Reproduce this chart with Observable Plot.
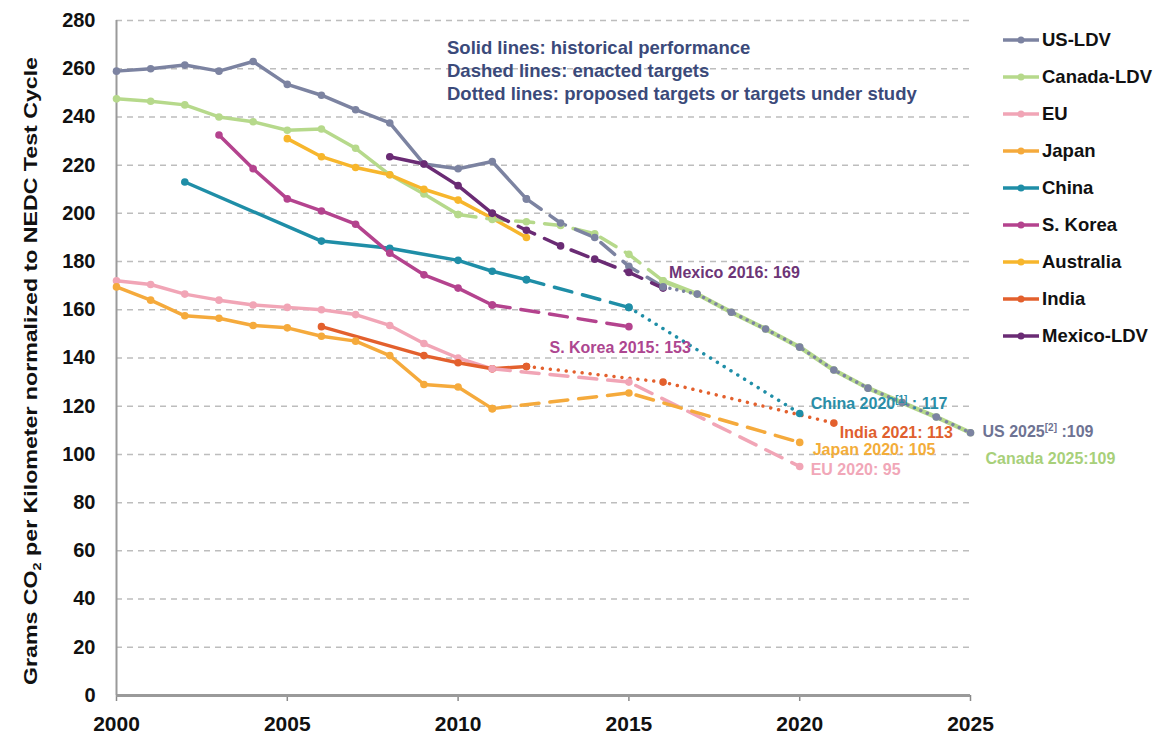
<!DOCTYPE html>
<html>
<head>
<meta charset="utf-8">
<script src="https://cdn.jsdelivr.net/npm/d3@7"></script>
<script src="https://cdn.jsdelivr.net/npm/@observablehq/plot@0.6"></script>
<style>
  body { margin: 0; background: #fff; font-family: "Liberation Sans", Arial, Helvetica, sans-serif; }
  #wrap { position: relative; width: 1161px; height: 735px; overflow: hidden; }
  #note { position: absolute; left: 447px; top: 36px; color: #3b4a7a; font-weight: bold; font-size: 18.5px; line-height: 23px; white-space: nowrap; }
  #legend { position: absolute; left: 1002px; top: 21.5px; }
  .item { display: flex; align-items: center; height: 37px; font-weight: bold; font-size: 18.5px; color: #111; white-space: nowrap; }
  .item svg { margin-right: 2px; }
</style>
</head>
<body>
<div id="wrap">
  <div id="chart"></div>
  <div id="note"></div>
  <div id="legend"></div>
</div>
<script>
// ---------------- DATA ----------------
const seriesNames = ["US-LDV", "Canada-LDV", "EU", "Japan", "China", "S. Korea", "Australia", "India", "Mexico-LDV"];

const usHistYears = [2000, 2001, 2002, 2003, 2004, 2005, 2006, 2007, 2008, 2009, 2010, 2011, 2012];
const usHistValues = [259, 260, 261.5, 259, 263, 253.5, 249, 243, 237.5, 220.5, 218.5, 221.5, 206];
const usEnactedYears = [2012, 2013, 2014, 2015, 2016];
const usEnactedValues = [206, 196, 190, 178, 169.5];
const usProposedYears = [2016, 2017, 2018, 2019, 2020, 2021, 2022, 2023, 2024, 2025];
const usProposedValues = [169.5, 166.5, 159, 152, 144.5, 135, 127.5, 121.5, 115.5, 109];

const canHistYears = [2000, 2001, 2002, 2003, 2004, 2005, 2006, 2007, 2008, 2009, 2010];
const canHistValues = [247.5, 246.5, 245, 240, 238, 234.5, 235, 227, 216, 208, 199.5];
const canEnactedYears = [2010, 2011, 2012, 2013, 2014, 2015, 2016];
const canEnactedValues = [199.5, 197.5, 196.5, 195, 191.5, 183, 172];
const canProposedYears = [2016, 2017, 2018, 2019, 2020, 2021, 2022, 2023, 2024, 2025];
const canProposedValues = [172, 166.5, 159, 152, 144.5, 135, 127.5, 121.5, 115.5, 109];

const euHistYears = [2000, 2001, 2002, 2003, 2004, 2005, 2006, 2007, 2008, 2009, 2010, 2011];
const euHistValues = [172, 170.5, 166.5, 164, 162, 161, 160, 158, 153.5, 146, 140, 135.5];
const euEnactedYears = [2011, 2015, 2020];
const euEnactedValues = [135.5, 130, 95];

const jpHistYears = [2000, 2001, 2002, 2003, 2004, 2005, 2006, 2007, 2008, 2009, 2010, 2011];
const jpHistValues = [169.5, 164, 157.5, 156.5, 153.5, 152.5, 149, 147, 141, 129, 128, 119];
const jpEnactedYears = [2011, 2015, 2020];
const jpEnactedValues = [119, 125.5, 105];

const cnHistYears = [2002, 2006, 2008, 2010, 2011, 2012];
const cnHistValues = [213, 188.5, 185.5, 180.5, 176, 172.5];
const cnEnactedYears = [2012, 2015];
const cnEnactedValues = [172.5, 161];
const cnProposedYears = [2015, 2020];
const cnProposedValues = [161, 117];

const krHistYears = [2003, 2004, 2005, 2006, 2007, 2008, 2009, 2010, 2011];
const krHistValues = [232.5, 218.5, 206, 201, 195.5, 183.5, 174.5, 169, 162];
const krEnactedYears = [2011, 2015];
const krEnactedValues = [162, 153];

const auHistYears = [2005, 2006, 2007, 2008, 2009, 2010, 2011, 2012];
const auHistValues = [231, 223.5, 219, 216, 210, 205.5, 198, 190];

const inHistYears = [2006, 2009, 2010, 2011, 2012];
const inHistValues = [153, 141, 138, 135.5, 136.5];
const inProposedYears = [2012, 2016, 2021];
const inProposedValues = [136.5, 130, 113];

const mxHistYears = [2008, 2009, 2010, 2011];
const mxHistValues = [223.5, 220.5, 211.5, 200];
const mxEnactedYears = [2011, 2012, 2013, 2014, 2015, 2016];
const mxEnactedValues = [200, 193, 186.5, 181, 175.5, 169];

const labelTexts = ["Mexico 2016: 169", "S. Korea 2015: 153", "China 2020[1] : 117", "India 2021: 113", "Japan 2020: 105", "EU 2020: 95", "US 2025[2] :109", "Canada 2025:109"];
const labelSeries = ["Mexico-LDV", "S. Korea", "China", "India", "Japan", "EU", "US-LDV", "Canada-LDV"];
const labelYears = [2016, 2015, 2020, 2021, 2020, 2020, 2025, 2025];
const labelValues = [169, 153, 117, 113, 105, 95, 109, 109];

const noteLines = ["Solid lines: historical performance", "Dashed lines: enacted targets", "Dotted lines: proposed targets or targets under study"];

const xTicks = [2000, 2005, 2010, 2015, 2020, 2025];
const yTicks = [0, 20, 40, 60, 80, 100, 120, 140, 160, 180, 200, 220, 240, 260, 280];
const gridValues = [20, 40, 60, 80, 100, 120, 140, 160, 180, 200, 220, 240, 260, 280];

// ---------------- STYLE ----------------
const seriesColors = ["#7c83a1", "#b6d98b", "#f1a5b6", "#f5aa3c", "#1f8ea7", "#b4438e", "#f7b62c", "#e3602d", "#6a2b74"];
const labelColors = {"Mexico-LDV": "#6d3577", "S. Korea": "#ad4690", "China": "#2a8ea8", "India": "#e0602e", "Japan": "#f3ad3a", "EU": "#f1a7b8", "US-LDV": "#6e7393", "Canada-LDV": "#a8d07a"};

function rows(name, years, values) {
  return years.map((year, i) => ({name, year, value: values[i]}));
}

const hist = [
  ...rows("Canada-LDV", canHistYears, canHistValues),
  ...rows("US-LDV", usHistYears, usHistValues),
  ...rows("EU", euHistYears, euHistValues),
  ...rows("Japan", jpHistYears, jpHistValues),
  ...rows("China", cnHistYears, cnHistValues),
  ...rows("S. Korea", krHistYears, krHistValues),
  ...rows("Australia", auHistYears, auHistValues),
  ...rows("India", inHistYears, inHistValues),
  ...rows("Mexico-LDV", mxHistYears, mxHistValues)
];
const enacted = [
  ...rows("Canada-LDV", canEnactedYears, canEnactedValues),
  ...rows("US-LDV", usEnactedYears, usEnactedValues),
  ...rows("EU", euEnactedYears, euEnactedValues),
  ...rows("Japan", jpEnactedYears, jpEnactedValues),
  ...rows("China", cnEnactedYears, cnEnactedValues),
  ...rows("S. Korea", krEnactedYears, krEnactedValues),
  ...rows("Mexico-LDV", mxEnactedYears, mxEnactedValues)
];
const canProposed = rows("Canada-LDV", canProposedYears, canProposedValues);
const usProposed = rows("US-LDV", usProposedYears, usProposedValues);
const proposed = [
  ...rows("China", cnProposedYears, cnProposedValues),
  ...rows("India", inProposedYears, inProposedValues)
];
const allPoints = [...hist, ...enacted, ...canProposed, ...usProposed, ...proposed];

const labelRows = labelTexts.map((text, i) => ({text, name: labelSeries[i], year: labelYears[i], value: labelValues[i]}));
const labelOffsets = [
  {dx: 6, dy: -15}, {dx: 62, dy: 21, anchor: "end"}, {dx: 11, dy: -9.5}, {dx: 6, dy: 10},
  {dx: 13, dy: 7}, {dx: 11, dy: 3}, {dx: 12, dy: -1}, {dx: 15, dy: 26}
];

const lineOpts = {x: "year", y: "value", z: "name", stroke: "name", strokeWidth: 3.5, strokeLinejoin: "round"};

const plot = Plot.plot({
  width: 1161,
  height: 735,
  marginLeft: 116,
  marginRight: 191,
  marginTop: 20,
  marginBottom: 40,
  x: {domain: [2000, 2025], label: null},
  y: {domain: [0, 280], label: null},
  color: {domain: seriesNames, range: seriesColors},
  style: {fontFamily: "'Liberation Sans', Arial, Helvetica, sans-serif", fontSize: "20px", fontWeight: "bold", color: "#111", background: "#fff", overflow: "visible"},
  marks: [
    Plot.ruleY(gridValues, {stroke: "#bdbdbd", strokeWidth: 1.5, strokeDasharray: "6,5"}),
    Plot.ruleX([2000], {stroke: "#9a9a9a", strokeWidth: 2}),
    Plot.axisY({ticks: yTicks, tickSize: 0, tickPadding: 21, label: null, fontSize: 20, fontWeight: "bold"}),
    Plot.axisX({ticks: xTicks, tickFormat: d => String(d), tickSize: 6, tickPadding: 15, stroke: "#8a8a8a", strokeWidth: 1.5, label: null, fontSize: 21, fontWeight: "bold"}),
    Plot.ruleY([0], {stroke: "#9a9a9a", strokeWidth: 3}),
    Plot.line(canProposed, {...lineOpts, strokeWidth: 4.5}),
    Plot.line(hist, lineOpts),
    Plot.line(enacted, {...lineOpts, strokeDasharray: "18,11"}),
    Plot.line(usProposed, {...lineOpts, strokeWidth: 3.5, strokeDasharray: "0.01,7", strokeLinecap: "round"}),
    Plot.line(proposed, {...lineOpts, strokeDasharray: "0.01,8", strokeLinecap: "round"}),
    Plot.dot(allPoints, {x: "year", y: "value", fill: "name", r: 3.8}),
    ...labelRows.map((d, i) => Plot.text([d], {
      x: "year", y: "value", text: "text",
      fill: labelColors[d.name], dx: labelOffsets[i].dx, dy: labelOffsets[i].dy,
      textAnchor: labelOffsets[i].anchor || "start", fontSize: 16, fontWeight: "bold"
    }))
  ]
});

document.getElementById("chart").appendChild(plot);

// superscripts in labels
d3.select(plot).selectAll("text").each(function() {
  const t = this.textContent;
  const m = t.match(/^(.*?)(\[\d\])(.*)$/);
  if (!m || this.querySelector("tspan")) return;
  const sel = d3.select(this);
  sel.text(null);
  sel.append("tspan").text(m[1]);
  sel.append("tspan").text(m[2]).attr("font-size", 10).attr("dy", -6);
  sel.append("tspan").text(m[3]).attr("dy", 6);
});

// y axis title
const yl = d3.select(plot).append("text")
  .attr("transform", "translate(36.5,371) rotate(-90)")
  .attr("text-anchor", "middle")
  .attr("font-size", 17.5)
  .attr("font-weight", "bold")
  .attr("fill", "#111")
  .attr("textLength", 628)
  .attr("lengthAdjust", "spacingAndGlyphs");
yl.append("tspan").text("Grams CO");
yl.append("tspan").text("2").attr("font-size", 11).attr("dy", 4);
yl.append("tspan").text(" per Kilometer normalized to NEDC Test Cycle").attr("dy", -4);

// note
const note = document.getElementById("note");
noteLines.forEach(s => { const div = document.createElement("div"); div.textContent = s; note.appendChild(div); });

// legend
const legend = document.getElementById("legend");
seriesNames.forEach((n, i) => {
  const item = document.createElement("div");
  item.className = "item";
  const sw = d3.create("svg").attr("width", 38).attr("height", 12);
  sw.append("line").attr("x1", 1).attr("x2", 37).attr("y1", 6).attr("y2", 6).attr("stroke", seriesColors[i]).attr("stroke-width", 3.5);
  sw.append("circle").attr("cx", 19).attr("cy", 6).attr("r", 3.5).attr("fill", seriesColors[i]);
  item.appendChild(sw.node());
  const span = document.createElement("span");
  span.textContent = n;
  item.appendChild(span);
  legend.appendChild(item);
});
</script>
</body>
</html>
